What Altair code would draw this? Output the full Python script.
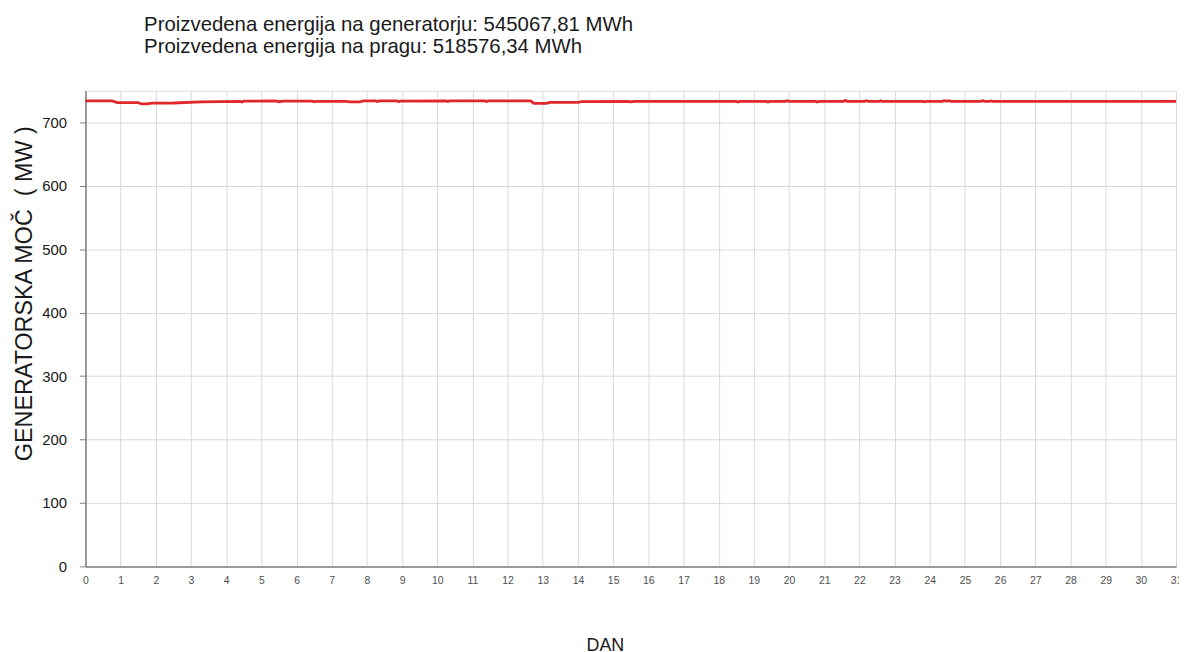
import altair as alt
import pandas as pd

title_lines = ["Proizvedena energija na generatorju: 545067,81 MWh",
               "Proizvedena energija na pragu: 518576,34 MWh"]
NB = "\u00a0"
y_title = "GENERATORSKA MOČ" + NB * 2 + "(" + NB + "MW" + NB + ")"
x_title = "DAN"

days = [0, 0.75, 0.9, 1.5, 1.6, 1.75, 1.9, 2.5, 3.3, 4.4, 4.45, 4.5, 5.4, 5.5, 5.6,
        6.45, 6.5, 6.55, 7.4, 7.5, 7.8, 7.9, 8.25, 8.3, 8.35, 8.85, 8.9, 8.95,
        10.25, 10.3, 10.35, 11.35, 11.4, 11.45, 12.65, 12.75, 13.1, 13.2, 14.0, 14.1,
        15.4, 15.5, 15.6, 18.5, 18.55, 18.6, 19.35, 19.4, 19.45, 19.9, 19.95, 20.0,
        20.75, 20.8, 20.85, 21.55, 21.6, 21.65, 22.15, 22.2, 22.25, 22.55, 22.6, 22.65,
        23.8, 23.85, 23.9, 24.35, 24.4, 24.5, 24.55, 24.6, 25.45, 25.5, 25.55,
        25.7, 25.75, 25.8, 31]
power = [734.0, 734.0, 731.2, 731.0, 729.0, 729.0, 730.2, 730.5, 732.4, 733.0, 732.0, 733.5, 733.8, 732.5, 733.4,
         733.3, 732.3, 733.2, 733.0, 732.3, 732.4, 733.8, 733.8, 732.8, 733.8, 733.7, 732.6, 733.6,
         733.8, 732.8, 733.8, 733.8, 732.7, 733.7, 734.0, 729.8, 730.0, 731.4, 731.6, 732.6,
         733.0, 732.2, 733.0, 733.0, 732.0, 733.0, 733.0, 732.0, 733.0, 733.0, 734.0, 733.0,
         733.0, 732.0, 733.0, 733.0, 734.6, 733.2, 733.0, 734.0, 733.0, 733.0, 734.2, 733.0,
         733.0, 732.2, 733.0, 733.0, 734.2, 733.6, 734.2, 733.0, 733.0, 734.4, 733.0,
         733.0, 733.8, 733.0, 733.0]

x_grid_values = [i * 0.5 for i in range(63)]
y_tick_values = [0, 100, 200, 300, 400, 500, 600, 700]

df = pd.DataFrame({"dan": days, "moc": power})

FONT = "Liberation Sans"

chart = alt.Chart(df).mark_line(color="#e0282a", strokeWidth=2.8).encode(
    x=alt.X("dan:Q", scale=alt.Scale(domain=[0, 31], nice=False, zero=False),
            axis=alt.Axis(values=x_grid_values, title=x_title, format="d",
                          labelExpr="datum.value % 1 == 0 ? datum.label : ''",
                          labelOverlap=False, labelFlush=False,
                          labelFont=FONT, labelFontSize=10.5, labelColor="#4d4d4d",
                          labelPadding=9, tickSize=0,
                          grid=True, gridColor="#d9d9d9", gridWidth=1,
                          domainColor="#808080", domainWidth=1.5,
                          titleFont=FONT, titleFontSize=18, titleFontWeight="normal",
                          titleColor="#1a1a1a", titleX=523, titleY=71,
                          titleAnchor="start", titleAlign="center", titleBaseline="top")),
    y=alt.Y("moc:Q", scale=alt.Scale(domain=[0, 750], nice=False),
            axis=alt.Axis(values=y_tick_values, title=y_title,
                          labelFont=FONT, labelFontSize=15, labelColor="#1a1a1a",
                          labelPadding=13, tickSize=6, tickColor="#808080",
                          grid=True, gridColor="#d9d9d9", gridWidth=1,
                          domainColor="#808080", domainWidth=1.5,
                          titleFont=FONT, titleFontSize=23.5, titleFontWeight="normal",
                          titleColor="#1a1a1a", titleX=-49, titleY=204,
                          titleAngle=-90, titleAlign="center", titleBaseline="bottom")),
).properties(
    width=1098,
    height=479,
    autosize=alt.AutoSizeParams(type="none"),
    padding={"left": 78, "top": 81, "right": 3, "bottom": 84},
    title=alt.TitleParams(text=title_lines, anchor="start", dx=59, offset=33,
                          font=FONT, fontSize=20.5, fontWeight="normal",
                          color="#1a1a1a", lineHeight=23, frame="group"),
).configure_view(
    stroke="#8c8c8c", strokeWidth=1.5
).configure(background="white")

chart.save("out.html", embed_options={"renderer": "svg", "actions": False})
